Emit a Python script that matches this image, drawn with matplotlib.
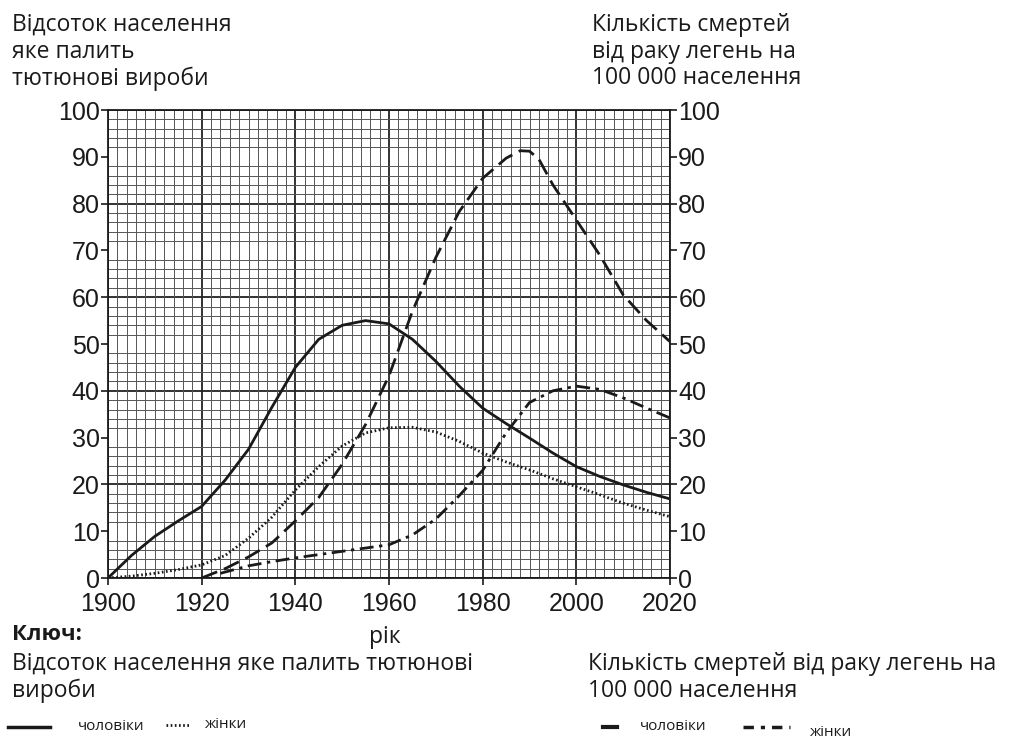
import matplotlib
matplotlib.use("Agg")
import matplotlib.pyplot as plt
import numpy as np

plt.rcParams['font.family'] = ['Open Sans', 'DejaVu Sans']

# Відсоток населення яке палить
men_smoke_years = [1900, 1905, 1910, 1915, 1920, 1925, 1930, 1935, 1940, 1945, 1950, 1955,
                   1960, 1965, 1970, 1975, 1980, 1985, 1990, 1995, 2000, 2005, 2010, 2015, 2020]
men_smoke = [0, 4.8, 8.9, 12.2, 15.3, 20.9, 27.5, 36.5, 45, 51, 54, 55,
             54.3, 51, 46.3, 41, 36.3, 33, 29.9, 26.7, 23.8, 21.7, 19.9, 18.3, 16.9]

women_smoke_years = [1900, 1905, 1910, 1915, 1920, 1925, 1930, 1935, 1940, 1945, 1950, 1955,
                     1960, 1965, 1970, 1975, 1980, 1985, 1990, 1995, 2000, 2005, 2010, 2015, 2020]
women_smoke = [0, 0.4, 1, 1.8, 2.8, 4.8, 8.5, 13, 18.8, 23.8, 28.2, 31,
               32.1, 32.2, 31.2, 29.2, 26.7, 24.8, 23.1, 21.2, 19.5, 17.8, 16, 14.5, 13.1]

# Кількість смертей від раку легень на 100 000
men_death_years = [1920, 1925, 1930, 1935, 1940, 1945, 1950, 1955, 1960, 1965, 1970, 1975,
                   1980, 1985, 1988, 1990, 1992, 1995, 2000, 2005, 2010, 2015, 2020]
men_death = [0, 2, 4.5, 7.5, 12.2, 17.2, 24.3, 32.8, 43.2, 57, 68.5, 78.3,
             85.4, 89.7, 91.3, 91.2, 89.5, 84, 76.5, 69, 60.5, 55, 50.5]

women_death_years = [1924, 1930, 1935, 1940, 1945, 1950, 1955, 1960, 1965, 1970, 1975, 1980,
                     1985, 1990, 1995, 2000, 2005, 2010, 2015, 2020]
women_death = [1, 2.6, 3.5, 4.3, 5, 5.7, 6.4, 7.1, 9.2, 12.6, 17.6, 23,
               31, 37.5, 40, 41, 40.3, 38.5, 36.3, 34.2]

year_ticks = [1900, 1920, 1940, 1960, 1980, 2000, 2020]
value_ticks = [0, 10, 20, 30, 40, 50, 60, 70, 80, 90, 100]

ink = '#1a1a1a'

fig = plt.figure(figsize=(10.24, 7.53), dpi=100)
ax = fig.add_axes([108 / 1024, 1 - 578 / 753, 562 / 1024, 468 / 753])

ax.set_xlim(1900, 2020)
ax.set_ylim(0, 100)

# fine graph-paper grid
ax.set_xticks(np.arange(1900, 2021, 2), minor=True)
ax.set_yticks(np.arange(0, 101, 2), minor=True)
ax.grid(which='minor', color='#555555', lw=0.7)
ax.set_axisbelow(True)
for x in range(1900, 2021, 20):
    ax.axvline(x, color='#222222', lw=1.3, zorder=0.5)
for y in range(0, 101, 20):
    ax.axhline(y, color='#222222', lw=1.3, zorder=0.5)

ax.set_xticks(year_ticks)
ax.set_yticks(value_ticks)
ax.tick_params(which='minor', length=0)
ax.tick_params(which='major', direction='out', length=5, width=1.2, color=ink,
               labelsize=18, labelcolor=ink,
               left=True, right=True, labelleft=True, labelright=True)
ax.tick_params(axis='y', pad=1)
ax.tick_params(axis='x', pad=5)
for lab in ax.get_xticklabels() + ax.get_yticklabels():
    lab.set_fontfamily(['Liberation Sans', 'DejaVu Sans'])
for s in ax.spines.values():
    s.set_color(ink)
    s.set_linewidth(1.3)

ax.plot(men_smoke_years, men_smoke, color=ink, lw=2.0, solid_capstyle='round')
ax.plot(women_smoke_years, women_smoke, color=ink, lw=2.0, linestyle=(0, (0.6, 0.9)))
ax.plot(men_death_years, men_death, color=ink, lw=2.0, linestyle=(0, (6, 2.6)))
ax.plot(women_death_years, women_death, color=ink, lw=2.0, linestyle=(0, (5, 2, 1.2, 2)))

# axis titles
fig.text(12 / 1024, 1 - 13 / 753, 'Відсоток населення\nяке палить\nтютюнові вироби',
         fontsize=16.5, va='top', ha='left', color=ink, linespacing=1.15)
fig.text(592 / 1024, 1 - 13 / 753, 'Кількість смертей\nвід раку легень на\n100 000 населення',
         fontsize=16.5, va='top', ha='left', color=ink, linespacing=1.15)
fig.text(385 / 1024, 1 - 637 / 753, 'рік', fontsize=16.5, va='center', ha='center', color=ink)

# key
fig.text(12 / 1024, 1 - 634 / 753, 'Ключ:', fontsize=16, fontweight='bold',
         va='center', ha='left', color=ink)
fig.text(12 / 1024, 1 - 652 / 753, 'Відсоток населення яке палить тютюнові\nвироби',
         fontsize=16.5, va='top', ha='left', color=ink, linespacing=1.15)
fig.text(588 / 1024, 1 - 652 / 753, 'Кількість смертей від раку легень на\n100 000 населення',
         fontsize=16.5, va='top', ha='left', color=ink, linespacing=1.15)

key = fig.add_axes([0, 0, 1, 1], facecolor='none')
key.set_xlim(0, 1024)
key.set_ylim(753, 0)
key.axis('off')
key.plot([8, 50], [727, 727], color=ink, lw=2.5)
key.plot([166, 190], [725, 725], color=ink, lw=2.0, linestyle=(0, (0.6, 0.9)))
key.plot([603, 617], [727, 727], color=ink, lw=3.0)
key.plot([743, 790], [727, 727], color=ink, lw=2.5, linestyle=(0, (3, 2, 1.2, 2)))
key.text(78, 727, 'чоловіки', fontsize=11, va='center', ha='left', color=ink)
key.text(205, 724, 'жінки', fontsize=11, va='center', ha='left', color=ink)
key.text(640, 727, 'чоловіки', fontsize=11, va='center', ha='left', color=ink)
key.text(810, 732, 'жінки', fontsize=11, va='center', ha='left', color=ink)

fig.savefig('out.png', dpi=100, facecolor='white')
